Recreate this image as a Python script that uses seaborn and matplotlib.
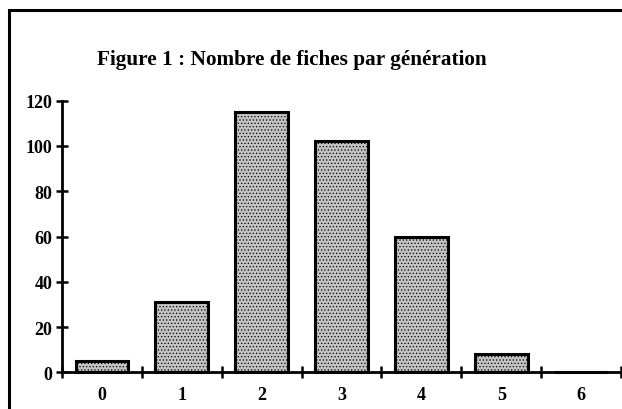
import numpy as np
import pandas as pd
import matplotlib
matplotlib.use("Agg")
import matplotlib.pyplot as plt
import matplotlib.patches as mpatches
import seaborn as sns

# data
generations = ["0", "1", "2", "3", "4", "5", "6"]
nb_fiches = [5, 31, 115, 102, 60, 8, 0]
y_ticks = [0, 20, 40, 60, 80, 100, 120]
title = "Figure 1 : Nombre de fiches par génération"

sns.set_theme(style="white")
plt.rcParams['font.family'] = ['Liberation Serif', 'DejaVu Serif']
plt.rcParams['font.weight'] = 'bold'
plt.rcParams['text.color'] = 'black'
plt.rcParams['xtick.color'] = 'black'
plt.rcParams['ytick.color'] = 'black'
plt.rcParams['hatch.color'] = '#6e6e6e'
plt.rcParams['hatch.linewidth'] = 0.5

df = pd.DataFrame({'generation': generations, 'fiches': nb_fiches})

fig = plt.figure(figsize=(6.22, 4.10), dpi=100)
ax = fig.add_axes([62 / 622, (410 - 373.3) / 410, 559 / 622, 271.6 / 410])

sns.barplot(data=df, x='generation', y='fiches', order=generations,
            color='#b0b0b0', saturation=1, width=0.66,
            edgecolor='black', linewidth=2.2, ax=ax)
for bar in ax.patches:
    bar.set_hatch('.....')
    bar.set_facecolor('#c2c2c2')
    bar.set_zorder(3)
    bar.set_clip_on(False)

ax.set_xlim(-0.5, len(generations) - 0.5)
ax.set_ylim(0, 120)

# tick marks on category boundaries, labels at category centres
ax.set_xticks(np.arange(-0.5, len(generations), 1.0))
ax.set_xticklabels([])
ax.set_xticks(range(len(generations)), minor=True)
ax.set_xticklabels(generations, minor=True, fontsize=13, fontweight='bold',
                   color='black')
ax.tick_params(axis='x', which='major', direction='inout', length=8, width=1.8,
               color='black', bottom=True)
ax.tick_params(axis='x', which='minor', length=0, pad=10, bottom=True)

ax.set_yticks(y_ticks)
ax.set_yticklabels([str(v) for v in y_ticks], fontsize=13, fontweight='bold',
                   color='black')
ax.tick_params(axis='y', direction='inout', length=8, width=1.8,
               color='black', pad=3, left=True)

for side in ['top', 'right']:
    ax.spines[side].set_visible(False)
for side in ['left', 'bottom']:
    ax.spines[side].set_color('black')
    ax.spines[side].set_linewidth(2.0)

ax.set_xlabel('')
ax.set_ylabel('')
ax.grid(False)

fig.text(0.469, 1 - 60 / 410, title, ha='center', va='center',
         fontsize=15.3, fontweight='bold', color='black')

# outer frame around the chart (runs off the right and bottom edges)
frame = mpatches.Rectangle((9 / 622, -0.1), 1.0, 1 - 11 / 410 + 0.1,
                           transform=fig.transFigure, fill=False,
                           edgecolor='black', linewidth=2.2, clip_on=False)
fig.patches.append(frame)

fig.savefig('out.png', dpi=100)
